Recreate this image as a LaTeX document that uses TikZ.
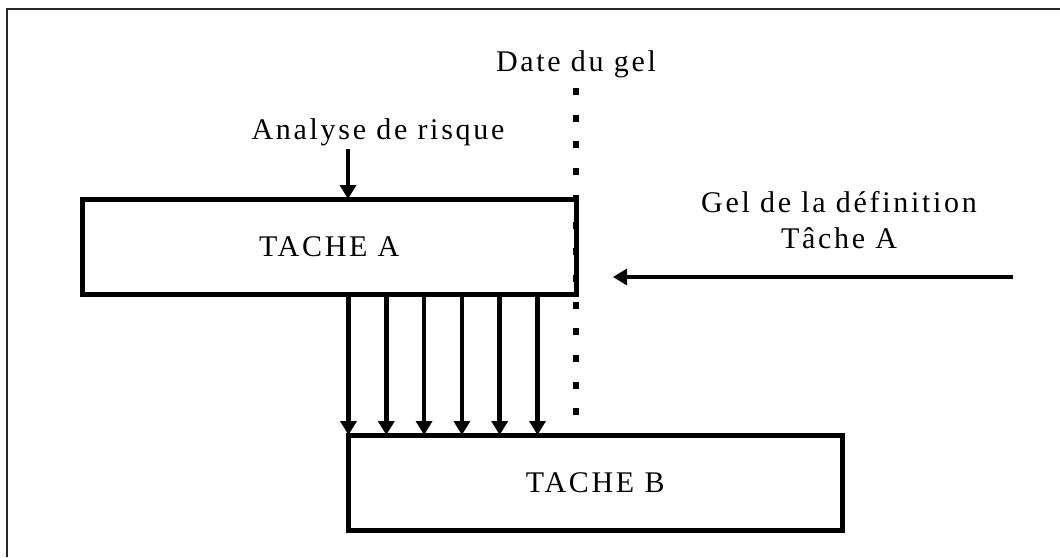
\documentclass[tikz,border=0pt]{standalone}
\usepackage{fontspec}
\setmainfont[LetterSpace=9]{Liberation Serif}
\usetikzlibrary{arrows.meta,calc}
\tikzset{
  tache/.style={draw,line width=5pt,minimum width=493.5pt,minimum height=95pt,inner sep=0pt,outer sep=0pt},
  flow/.style={line width=4.5pt,-{Triangle[width=16pt,length=14pt]}},
  gel/.style={line width=6.5pt,dash pattern=on 7pt off 19.7pt},
}

\begin{document}
\begin{tikzpicture}[x=1pt,y=-1pt,font=\fontsize{30}{36}\selectfont]
\useasboundingbox (0,0) rectangle (1060,557);
\draw[line width=1.3pt,black!85] (7,557) -- (7,9) -- (1060,9);
% the two tasks
\node[tache] (tacheA) at (329.25,246.5) {TACHE A};
\node[tache] (tacheB) at (595.25,482.5) {TACHE B};
% freeze date
\node[anchor=base] (date) at (576,71) {Date du gel};
\coordinate (gelTop) at (576,88);
\draw[gel] (gelTop) -- (gelTop |- tacheB.north);
% risk analysis
\node[anchor=base] (analyse) at (378,139) {Analyse de risque};
\coordinate (risque) at (348,149);
\draw[flow] (risque) -- (risque |- tacheA.north);
% definition frozen
\node[align=center] (defA) at (839,220) {Gel de la définition\\Tâche A};
\coordinate (defStart) at (1013,277);
\coordinate (defEnd) at (613,277);
\draw[flow] (defStart) -- (defEnd);
% transfers A -> B
\foreach \i in {0,...,5}{
  \coordinate (c\i) at ($(tacheB.north west)+(\i*37.8,0)$);
  \draw[flow] (c\i |- tacheA.south) -- (c\i);
}
\end{tikzpicture}
\end{document}
